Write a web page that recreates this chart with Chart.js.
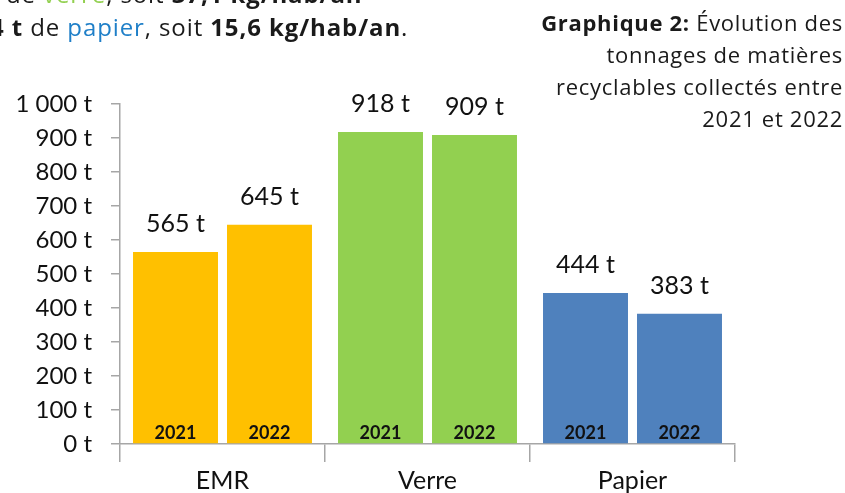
<!DOCTYPE html>
<html>
<head>
<meta charset="utf-8">
<script src="https://cdn.jsdelivr.net/npm/chart.js"></script>
<style>
    html, body { margin: 0; padding: 0; background: #fff; }
    #wrap { position: relative; width: 845px; height: 493px; overflow: hidden; }
    #chart { position: absolute; left: 0; top: 0; }
    .intro { position: absolute; font-family: "Open Sans", sans-serif; font-size: 24px; letter-spacing: 0.9px;
             line-height: 31px; color: #1a1a1a; white-space: nowrap; }
    .intro b { font-weight: 700; }
    .green { color: #92D050; }
    .blue { color: #1F7FC8; }
    #title { position: absolute; right: 2px; top: 6px; text-align: right; font-family: "Open Sans", sans-serif;
             font-size: 22px; letter-spacing: 0.7px; line-height: 32px; color: #1a1a1a; }
</style>
</head>
<body>
<div id="wrap">
    <canvas id="chart" width="845" height="493"></canvas>
    <div class="intro" style="top:-22px; left:6px">de <span class="green">verre</span>, soit <b>37,1 kg/hab/an</b></div>
    <div class="intro" style="top:11px; left:-10px"><b>4 t</b> de <span class="blue">papier</span>, soit <b>15,6 kg/hab/an</b>.</div>
    <div id="title"><b>Graphique 2:</b> Évolution des<br>tonnages de matières<br>recyclables collectés entre<br>2021 et 2022</div>
</div>
<script>
// --------------------------------------------------
//  Data
// --------------------------------------------------
var categories = ['EMR', 'Verre', 'Papier'];
var years = ['2021', '2022'];
var values2021 = [565, 918, 444];
var values2022 = [645, 909, 383];
var yTicks = [0, 100, 200, 300, 400, 500, 600, 700, 800, 900, 1000];

var barColors = ['#FFC000', '#92D050', '#4F81BD'];
var axisColor = '#A6A6A6';

function fmtTons(v) {
    var s = String(v);
    if (v >= 1000) s = Math.floor(v / 1000) + ' ' + String(v % 1000).padStart(3, '0');
    return s + ' t';
}

// --------------------------------------------------
//  Labels above bars + year inside bars
// --------------------------------------------------
var barLabels = {
    id: 'barLabels',
    afterDatasetsDraw: function (chart) {
        var ctx = chart.ctx;
        var bottom = chart.chartArea.bottom;
        ctx.save();
        ctx.textAlign = 'center';
        chart.data.datasets.forEach(function (ds, di) {
            var meta = chart.getDatasetMeta(di);
            meta.data.forEach(function (bar, i) {
                ctx.fillStyle = '#111';
                ctx.textBaseline = 'alphabetic';
                ctx.font = '25px Lato';
                ctx.fillText(fmtTons(ds.data[i]), bar.x, bar.y - 20);

                ctx.textBaseline = 'middle';
                ctx.font = 'bold 18px Lato';
                ctx.fillText(ds.label, bar.x, bottom - 11);
            });
        });
        ctx.restore();
    }
};

var ctx = document.getElementById('chart').getContext('2d');
new Chart(ctx, {
    type: 'bar',
    data: {
        labels: categories,
        datasets: [
            { label: years[0], data: values2021, backgroundColor: barColors },
            { label: years[1], data: values2022, backgroundColor: barColors }
        ]
    },
    options: {
        responsive: false,
        animation: false,
        categoryPercentage: 0.917,
        barPercentage: 0.904,
        layout: { padding: { top: 104, right: 110, left: 0, bottom: 0 } },
        plugins: {
            legend: { display: false },
            tooltip: { enabled: false }
        },
        scales: {
            x: {
                grid: { drawOnChartArea: false, drawTicks: true, tickLength: 18, color: axisColor, lineWidth: 1.5 },
                border: { color: axisColor, width: 1.5 },
                ticks: { color: '#111', font: { size: 25, family: 'Lato' }, padding: 4 },
                afterFit: function (scale) { scale.height = 49; }
            },
            y: {
                min: 0,
                max: 1000,
                afterBuildTicks: function (scale) {
                    scale.ticks = yTicks.map(function (v) { return { value: v }; });
                },
                grid: { drawOnChartArea: false, drawTicks: true, tickLength: 9, color: axisColor, lineWidth: 1.5 },
                border: { color: axisColor, width: 1.5 },
                ticks: {
                    color: '#111',
                    font: { size: 24, family: 'Lato' },
                    padding: 19,
                    callback: function (value) { return fmtTons(value); }
                },
                afterFit: function (scale) { scale.width = 120; }
            }
        }
    },
    plugins: [barLabels]
});
</script>
</body>
</html>
